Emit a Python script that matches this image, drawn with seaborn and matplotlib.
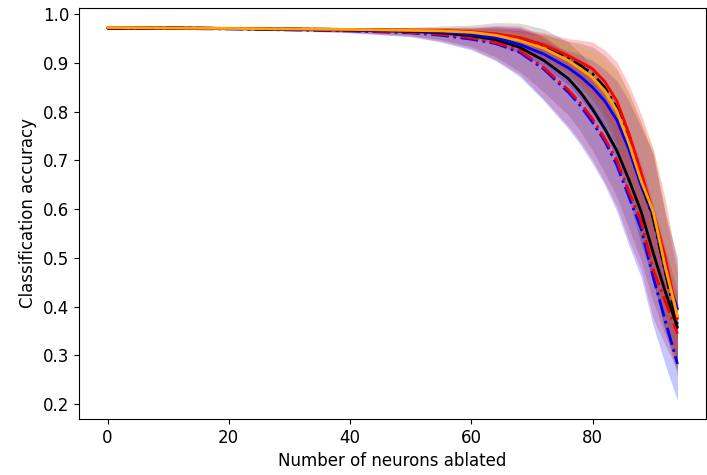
import numpy as np
import pandas as pd
import matplotlib
matplotlib.use("Agg")
import matplotlib.pyplot as plt
import seaborn as sns

# x positions (number of neurons ablated)
neurons = [0, 10, 20, 30, 40, 50, 55, 60, 64, 68, 72, 76, 78, 80, 82, 84, 86, 88, 90, 92, 94]

red_solid   = [0.972, 0.972, 0.971, 0.970, 0.969, 0.968, 0.967, 0.964, 0.960, 0.952, 0.937, 0.915, 0.902, 0.888, 0.862, 0.822, 0.755, 0.675, 0.593, 0.500, 0.375]
black_dash  = [0.972, 0.972, 0.971, 0.970, 0.969, 0.967, 0.966, 0.963, 0.958, 0.948, 0.933, 0.910, 0.895, 0.878, 0.850, 0.808, 0.738, 0.658, 0.580, 0.470, 0.362]
orange_solid= [0.973, 0.972, 0.971, 0.970, 0.969, 0.967, 0.966, 0.963, 0.957, 0.946, 0.930, 0.905, 0.888, 0.870, 0.843, 0.802, 0.735, 0.658, 0.595, 0.480, 0.380]
blue_solid  = [0.972, 0.972, 0.971, 0.970, 0.968, 0.966, 0.964, 0.959, 0.952, 0.938, 0.918, 0.890, 0.872, 0.850, 0.822, 0.783, 0.722, 0.648, 0.585, 0.470, 0.395]
black_solid = [0.972, 0.972, 0.971, 0.969, 0.968, 0.965, 0.962, 0.956, 0.948, 0.932, 0.905, 0.868, 0.840, 0.805, 0.765, 0.720, 0.660, 0.595, 0.510, 0.430, 0.357]
red_dash    = [0.972, 0.972, 0.971, 0.969, 0.967, 0.963, 0.959, 0.952, 0.942, 0.926, 0.890, 0.845, 0.818, 0.785, 0.745, 0.700, 0.635, 0.575, 0.475, 0.410, 0.344]
blue_dash   = [0.972, 0.971, 0.970, 0.968, 0.966, 0.962, 0.957, 0.949, 0.940, 0.922, 0.887, 0.840, 0.812, 0.778, 0.740, 0.690, 0.625, 0.560, 0.460, 0.370, 0.282]

# spread (std) of each group of runs
upper_std = [0.002, 0.002, 0.002, 0.002, 0.003, 0.004, 0.006, 0.008, 0.012, 0.018, 0.025, 0.035, 0.045, 0.055, 0.065, 0.080, 0.100, 0.120, 0.130, 0.120, 0.105]
lower_std = [0.002, 0.002, 0.002, 0.002, 0.004, 0.008, 0.014, 0.022, 0.035, 0.050, 0.065, 0.075, 0.080, 0.085, 0.090, 0.095, 0.100, 0.100, 0.100, 0.090, 0.075]

# (values, std, colour, linestyle) in line drawing order
series = [
    (blue_dash, lower_std, "blue", "-."),
    (red_dash, lower_std, "red", "-."),
    (black_solid, lower_std, "black", "-"),
    (blue_solid, upper_std, "blue", "-"),
    (black_dash, upper_std, "black", "-."),
    (red_solid, upper_std, "red", "-"),
    (orange_solid, upper_std, "orange", "-"),
]
# band drawing order
bands = [
    (black_solid, lower_std, "black", 0.15),
    (red_dash, lower_std, "red", 0.22),
    (blue_dash, lower_std, "blue", 0.22),
    (black_dash, upper_std, "black", 0.15),
    (blue_solid, upper_std, "blue", 0.22),
    (red_solid, upper_std, "red", 0.22),
    (orange_solid, upper_std, "orange", 0.22),
]

sns.set_style("ticks")
plt.rcParams["font.family"] = ["DejaVu Sans"]
for k in ["text.color", "axes.labelcolor", "xtick.color", "ytick.color", "axes.edgecolor"]:
    plt.rcParams[k] = "black"

fig = plt.figure(figsize=(7.07, 4.75), dpi=100)
ax = fig.add_axes([79/707, 1 - 419/475, (706 - 79)/707, (419 - 8)/475])

x = np.array(neurons)
for vals, std, col, a in bands:
    v = np.array(vals); s = np.array(std)
    ax.fill_between(x, v - s, v + s, color=col, alpha=a, linewidth=0)

for vals, std, col, ls in series:
    df = pd.DataFrame({"x": neurons, "y": vals})
    sns.lineplot(data=df, x="x", y="y", color=col, linestyle=ls, linewidth=2, ax=ax)

ax.set_xlim(-4.7, 98.7)
ax.set_ylim(0.169, 1.013)
ax.set_xticks([0, 20, 40, 60, 80])
ax.set_yticks([0.2, 0.3, 0.4, 0.5, 0.6, 0.7, 0.8, 0.9, 1.0])
ax.tick_params(labelsize=12, colors="black")
ax.set_xlabel("Number of neurons ablated", fontsize=12)
ax.set_ylabel("Classification accuracy", fontsize=12)
for sp in ax.spines.values():
    sp.set_visible(True)
    sp.set_color("black")

fig.savefig("out.png", dpi=100)
